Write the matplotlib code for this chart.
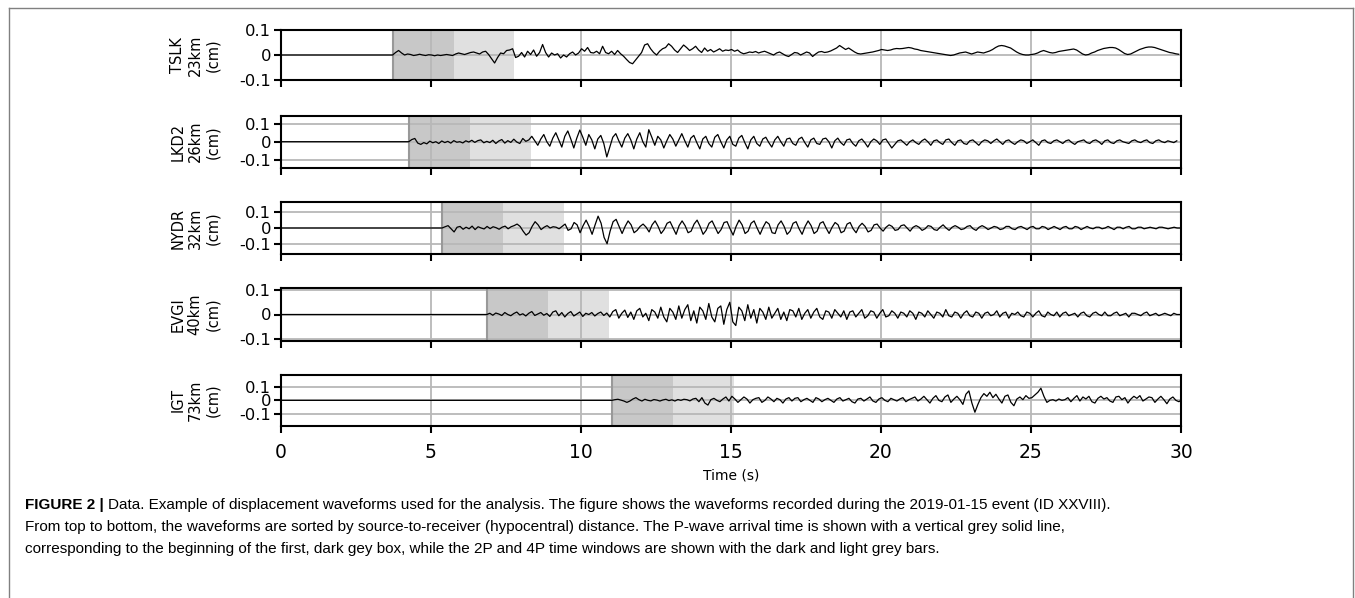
import numpy as np
import matplotlib.pyplot as plt
from matplotlib.lines import Line2D

# stations, distances and P arrivals (s)
stations = ['TSLK', 'LKD2', 'NYDR', 'EVGI', 'IGT']
distances = [23, 26, 32, 40, 73]
p_arrival = [3.72, 4.26, 5.37, 6.86, 11.03]
win_len = 2.03          # 2P / 4P windows, s
y_limits = [0.1, 0.145, 0.165, 0.107, 0.19]
dt = 0.1

# displacement after P arrival, units of 0.001 cm, one sample every dt
tslk = [0, 10, 18, 8, 0, 4, 2, -2, 0, 3,
        0, -2, 1, 0, -3, 0, -2, 0, 2, 0,
        -2, 4, 8, 5, 2, 6, 10, 12, 8, 4,
        12, 15, 2, -15, -32, -10, 8, 5, 18, 20,
        25, -10, -5, 10, -8, 15, 2, 20, -5, 10,
        42, 10, -8, 8, 0, 5, -12, 0, -8, 5,
        12, 0, 8, 25, 15, 30, 10, 8, 15, 5,
        35, 10, 5, 15, 2, 18, 5, -5, -18, -30,
        -35, -20, -5, 10, 40, 45, 25, 10, 0, 15,
        25, 30, 45, 35, 20, 10, 25, 40, 30, 18,
        25, 35, 20, 10, 28, 15, 22, 12, 18, 25,
        15, 20, 18, 22, 15, 20, 10, 5, 8, 12,
        10, 14, 8, 12, 15, 10, 5, 0, 8, 12,
        5, -2, -6, 2, 10, 8, 0, 6, 12, 8,
        -6, 4, 12, 14, 10, 12, 16, 22, 28, 38,
        30, 22, 28, 20, 12, 6, 4, 6, 8, 10,
        12, 15, 18, 22, 20, 18, 20, 24, 26, 25,
        26, 28, 30, 28, 24, 22, 18, 16, 14, 12,
        10, 8, 6, 4, 2, 0, -2, 0, 4, 8,
        10, 12, 8, 4, 8, 12, 10, 8, 12, 16,
        22, 30, 36, 38, 36, 32, 28, 20, 12, 6,
        2, 0, 0, 2, 4, 8, 14, 18, 14, 10,
        8, 10, 14, 16, 18, 20, 22, 24, 20, 12,
        4, 0, 2, 8, 12, 18, 22, 26, 28, 30,
        30, 28, 22, 14, 6, 2, 4, 10, 16, 22,
        26, 30, 32, 32, 30, 26, 22, 18, 14, 10,
        8, 5, 3]

lkd2 = [0, 12, 18, -8, -15, -5, -12, 3, -6, 0,
        -10, 4, -5, 2, -8, 6, -3, 0, -7, 5,
        -2, 8, -4, 6, 10, -6, 2, -5, 8, -10,
        4, 12, -8, 6, -4, 14, -2, -10, 18, 2,
        10, 30, 5, -20, 15, 40, 0, -25, 20, 50,
        10, -30, 30, 60, 15, -35, 20, 65, 25, -20,
        40, 10, -40, 15, 35, -10, -85, -30, 25, 45,
        5, -30, 20, 45, 10, -40, 15, 50, 0, -30,
        67, 25, -20, 30, 10, -35, 5, 40, 15, -25,
        10, 45, 5, -30, 20, 35, -5, -40, 15, 30,
        -10, -30, 25, 40, 0, -35, 10, 30, -15, -25,
        20, 35, -5, -40, 10, 30, -10, -25, 15, 25,
        -5, -30, 10, 30, 0, -25, 15, 20, -10, -20,
        15, 25, -5, -30, 10, 20, -10, -15, 15, 20,
        0, -35, 5, 20, -5, -20, 10, 15, -10, -25,
        5, 15, -5, -30, 0, 15, 5, -15, 10, 15,
        -10, -35, -15, 5, 10, -5, -20, 0, 10, -5,
        -15, 5, 15, 0, -20, 5, 10, -5, -15, 10,
        15, -5, -20, 5, 10, -10, -15, 5, 10, -5,
        -20, 0, 10, 5, -10, 5, 15, 0, -15, 5,
        10, -5, -15, 0, 10, 5, -10, 0, 10, -5,
        -20, 5, 10, -5, -10, 5, 10, 0, -10, 5,
        10, -5, -15, 0, 5, 10, -5, -10, 5, 10,
        0, -15, 5, 10, -5, -10, 5, 10, 0, -5,
        -10, 5, 10, 0, -5, 5, 10, -5, -10, 5,
        10, 0, -5, 5, 0, -5, 5]

nydr = [0, 8, 15, -5, -25, 5, 10, -8, 5, -5, 12, -10, 8, 0, -6, 10, -4, 8, 2, -8,
        5, 12, -5, 8, 15, 25, 10, -20, -45, -30, 10, 40, 20, -10, 5, 15, 0, 8, 5, -5,
        10, 25, -15, -5, 35, 20, -30, 15, 50, 10, -40, 20, 75, 30, -60, -100, -20, 40, 55, 10,
        -35, 10, 45, 20, -30, -15, 10, 25, 5, -25, 20, 45, 10, -35, -10, 30, 40, 0, -40, 15,
        45, 15, -30, -20, 25, 50, 10, -40, -15, 30, 45, 5, -35, -10, 35, 40, -5, -45, 10, 50,
        20, -35, -20, 30, 45, 0, -40, 5, 40, 25, -30, -35, 20, 45, 10, -40, -20, 30, 40, -5,
        -40, 10, 45, 15, -35, -20, 30, 40, 0, -35, 5, 35, 20, -30, -20, 25, 35, -5, -30, 10,
        30, 10, -25, -15, 20, 25, 0, -20, 5, 20, 10, -15, -10, 15, 20, 0, -20, 5, 15, 5,
        -15, -5, 15, 10, -10, -15, 5, 20, 0, -15, 5, 15, 5, -10, -5, 10, 15, -5, -15, 5,
        15, 5, -10, 0, 10, 5, -10, -5, 10, 10, -5, -10, 5, 10, 0, -10, 5, 10, -5, -5,
        10, 5, -10, 0, 10, 0, -10, 5, 10, -5, -5, 10, 5, -10, 0, 10, 0, -5, 5, 5,
        -5, 0, 10, 0, -10, 5, 5, -5, 5, 10, -5, -5, 5, 5, -5, 0, 5, 0, -5, 5,
        5, 0, -5, 0, 5, 0, 0]

evgi = [0, 5, -3, 6, 2, -4, 8, 0, -5, 4, 10, -2, 3, -6, 5, 12, -4, 2, 8, -3,
        4, -8, 10, 15, -5, 8, -10, 4, 12, -6, 2, 10, -8, 5, 0, 8, -6, 4, 10, -4,
        6, -10, 12, 20, -15, 5, 18, -12, 10, -20, 15, 25, -10, 5, -25, 20, 10, -15, 30, -10,
        -30, 25, 10, -20, 35, -15, 20, 40, -25, 15, -35, 30, 15, -20, 45, -10, -30, 25, 35, -40,
        20, 50, -30, -45, 30, 15, -25, 40, -15, 20, -35, 25, 10, -20, 30, -15, 5, 25, -20, 10,
        -25, 20, 15, -10, 25, -20, 5, 20, -15, 10, 25, -10, -20, 15, 10, -15, 20, 5, -10, 15,
        -20, 10, 15, -10, 5, 20, -15, -5, 15, 10, -15, 5, 20, -10, -5, 15, 5, -15, 10, 5,
        -10, 15, 5, -20, 10, 5, -10, 15, 0, -15, 10, 5, -10, 20, -5, -10, 10, 5, -15, 5,
        15, -5, -10, 10, 5, -15, 5, 10, -5, 0, 15, -10, 5, 10, -15, 5, 0, 10, -5, -10,
        10, 5, -10, 5, 15, -5, -10, 10, 0, -5, 10, -10, 5, 10, -5, 0, 5, -10, 5, 10,
        -5, -10, 5, 10, 0, -5, 10, -5, -5, 5, 10, -5, 0, 5, -10, 5, 5, 0, -5, 5,
        10, -5, 0, 5, -5, 0, 5, 0, -5, 5, 0, 0]

igt = [0, 5, 8, 2, -5, -15, -5, 10, 20, 5, -5, 8, 0, -4, 6, 2, -5, 3, 8, -2,
       4, -5, 6, 0, 8, 5, -4, 10, 15, -10, 20, -20, -35, 5, 15, 0, -10, 10, 25, -5,
       30, 10, -15, 5, 25, 10, -20, 5, 15, 20, -15, 0, 25, 10, -10, 15, 5, -20, 10, 20,
       -5, 15, 20, -10, 5, 15, 0, -15, 20, 10, -10, 5, 15, 0, -15, 10, 20, -5, 5, 15,
       -10, -20, 10, 15, -5, 10, 25, -5, -15, 10, 20, 0, -10, 15, 5, -5, 10, 20, -10, 5,
       15, 25, -5, 10, 30, 5, -20, 15, 35, 0, -10, 25, 40, -15, 10, 30, 5, -30, 45, 70,
       -20, -88, -30, 20, 50, 30, 60, 20, 45, 10, -20, 30, 40, -15, -40, 10, 25, 5, 35, 15,
       20, 40, 60, 90, 30, -15, 0, 5, -5, 10, 0, 5, 20, -10, 15, 35, -5, 25, 10, 30,
       -10, -20, 15, 30, 10, 20, -5, -15, 25, 30, 5, 20, -20, 10, 30, 15, 35, -5, 10, 25,
       20, -15, 10, 30, 5, -25, 10, 25, 0, -10, 5]

traces = [tslk, lkd2, nydr, evgi, igt]

caption_bold = 'FIGURE 2 | '
caption_lines = [
    'Data. Example of displacement waveforms used for the analysis. The figure shows the waveforms recorded during the 2019-01-15 event (ID XXVIII).',
    'From top to bottom, the waveforms are sorted by source-to-receiver (hypocentral) distance. The P-wave arrival time is shown with a vertical grey solid line,',
    'corresponding to the beginning of the first, dark gey box, while the 2P and 4P time windows are shown with the dark and light grey bars.',
]

W, H = 1355, 598
fig = plt.figure(figsize=(W / 100, H / 100), dpi=100)

# panel boxes in pixels (top, bottom)
tops = [30, 115.7, 202, 288.3, 374.7]
bottoms = [80, 167.7, 254, 340.7, 426]
left_px, right_px = 281, 1181

for i, name in enumerate(stations):
    ax = fig.add_axes([left_px / W, 1 - bottoms[i] / H,
                       (right_px - left_px) / W, (bottoms[i] - tops[i]) / H])
    p = p_arrival[i]
    amp = np.array(traces[i]) * 0.001
    t = p + dt * np.arange(len(amp))
    t = np.concatenate([[0.0], t])
    amp = np.concatenate([[0.0], amp])

    ax.axvspan(p, p + win_len, color='#c8c8c8', lw=0, zorder=0)
    ax.axvspan(p + win_len, p + 2 * win_len, color='#e0e0e0', lw=0, zorder=0)
    ax.axvline(p, color='#999999', lw=1.5, zorder=1)
    ax.plot(t, amp, color='black', lw=0.9, zorder=3)

    ax.set_xlim(0, 30)
    ax.set_ylim(-y_limits[i], y_limits[i])
    ax.set_xticks([0, 5, 10, 15, 20, 25, 30])
    ax.set_yticks([-0.1, 0, 0.1])
    ax.set_yticklabels(['-0.1', '0', '0.1'])
    ax.grid(True, color='#b8b8b8', lw=1.3, zorder=0.5)
    ax.set_axisbelow(True)
    for s in ax.spines.values():
        s.set_linewidth(1.5)
    ax.tick_params(axis='y', labelsize=11.8, length=5, width=1.5, pad=2)
    ax.tick_params(axis='x', labelsize=13.5, length=5, width=1.5, pad=7)
    ax.set_ylabel('%s\n%dkm\n(cm)' % (name, distances[i]), fontsize=10.5,
                  linespacing=1.2, labelpad=14)
    if i < len(stations) - 1:
        ax.tick_params(axis='x', labelbottom=False)
    else:
        ax.set_xlabel('Time (s)', fontsize=10, labelpad=5)

# outer page frame
frame = dict(color='#808080', lw=1.0, transform=fig.transFigure)
fig.add_artist(Line2D([9 / W, 1353 / W], [1 - 8 / H, 1 - 8 / H], **frame))
fig.add_artist(Line2D([9 / W, 9 / W], [1 - 8 / H, 0], **frame))
fig.add_artist(Line2D([1353 / W, 1353 / W], [1 - 8 / H, 0], **frame))

# caption
cap_font = ['Liberation Sans Narrow', 'Liberation Sans', 'DejaVu Sans']
cap_size = 11.0
line_y = [505, 527, 549]
renderer = fig.canvas.get_renderer()
tb = fig.text(25 / W, 1 - line_y[0] / H, caption_bold, fontsize=cap_size,
              fontweight='bold', family=cap_font, va='center')
bw = tb.get_window_extent(renderer).width
fig.text((25 + bw) / W, 1 - line_y[0] / H, caption_lines[0], fontsize=cap_size,
         family=cap_font, va='center')
for k in (1, 2):
    fig.text(25 / W, 1 - line_y[k] / H, caption_lines[k], fontsize=cap_size,
             family=cap_font, va='center')

fig.savefig('out.png', dpi=100)
